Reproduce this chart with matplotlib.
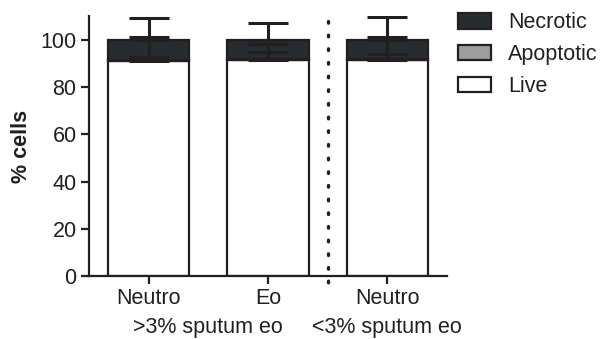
import matplotlib
matplotlib.use("Agg")
import matplotlib.pyplot as plt
from matplotlib.patches import Patch
from matplotlib.transforms import offset_copy
import numpy as np

plt.rcParams['font.family'] = ['Liberation Sans', 'DejaVu Sans']

# Data: mean % of cells per group and the SD of each segment
categories = ["Neutro", "Eo", "Neutro"]
groups = [">3% sputum eo", "<3% sputum eo"]
live = [91.2, 91.5, 91.5]
apoptotic = [0.4, 0.4, 0.3]
necrotic = [8.4, 8.1, 8.2]
live_sd = [1.7, 3.3, 2.4]
apoptotic_sd = [9.8, 6.4, 9.6]
necrotic_sd = [9.2, 7.3, 9.9]
yticks = [0, 20, 40, 60, 80, 100]

ink = "#231f20"
col_necrotic = "#272c30"
col_apoptotic = "#9b9d9f"
col_live = "#ffffff"
fs = 15.5

fig = plt.figure(figsize=(6.03, 3.39), dpi=100)
ax = fig.add_axes([89/603, 1 - 276/339, (447 - 89)/603, (276 - 16.4)/339])

x = np.arange(len(categories))
w = 0.68
lw = 1.6
live_a = np.array(live)
apo_a = np.array(apoptotic)
nec_a = np.array(necrotic)

ax.bar(x, live_a, w, color=col_live, edgecolor=ink, linewidth=lw, zorder=2)
ax.bar(x, apo_a, w, bottom=live_a, color=col_apoptotic, edgecolor=ink, linewidth=lw, zorder=2)
ax.bar(x, nec_a, w, bottom=live_a + apo_a, color=col_necrotic, edgecolor=ink, linewidth=lw, zorder=2)

# Upward error bars from the top of each stacked segment
tops = [live_a, live_a + apo_a, live_a + apo_a + nec_a]
sds = [live_sd, apoptotic_sd, necrotic_sd]
for top, sd in zip(tops, sds):
    ax.errorbar(x, top, yerr=[np.zeros(len(x)), np.array(sd)], fmt='none',
                ecolor=ink, elinewidth=2.2, capsize=14.5, capthick=2.2, zorder=3)

# Dotted separator between the two sputum groups
ax.plot([1.5, 1.5], [108, -7], color=ink, linestyle=(0, (0.5, 3.6)), linewidth=2.4,
        dash_capstyle='round', clip_on=False, zorder=4)

ax.set_xlim(-0.5, 2.5)
ax.set_ylim(0, 110)
ax.set_yticks(yticks)
ax.set_xticks(x)
ax.set_xticklabels(categories, fontsize=fs, color=ink)
ax.tick_params(axis='y', labelsize=fs, colors=ink, length=6, width=1.6, pad=3)
ax.tick_params(axis='x', length=6, width=1.6, pad=3, colors=ink)
for s in ['top', 'right']:
    ax.spines[s].set_visible(False)
for s in ['left', 'bottom']:
    ax.spines[s].set_linewidth(1.6)
    ax.spines[s].set_color(ink)

ax.set_ylabel("% cells", fontsize=fs, fontweight='bold', color=ink, labelpad=6)

# Group captions under the category labels
grp_tr = offset_copy(ax.get_xaxis_transform(), fig=fig, y=-51, units='dots')
ax.text(0.5, 0, groups[0], transform=grp_tr, ha='center', va='center',
        fontsize=fs, color=ink)
ax.text(2.0, 0, groups[1], transform=grp_tr, ha='center', va='center',
        fontsize=fs, color=ink)

handles = [Patch(facecolor=col_necrotic, edgecolor=ink, linewidth=1.6, label="Necrotic"),
           Patch(facecolor=col_apoptotic, edgecolor=ink, linewidth=1.6, label="Apoptotic"),
           Patch(facecolor=col_live, edgecolor=ink, linewidth=1.6, label="Live")]
fig.legend(handles=handles, loc='upper left', bbox_to_anchor=(439/603, 1 + 7/339),
           frameon=False, fontsize=fs, handlelength=1.5, handleheight=0.72,
           labelspacing=0.5, handletextpad=0.8, labelcolor=ink)

fig.savefig("out.png", dpi=100)
